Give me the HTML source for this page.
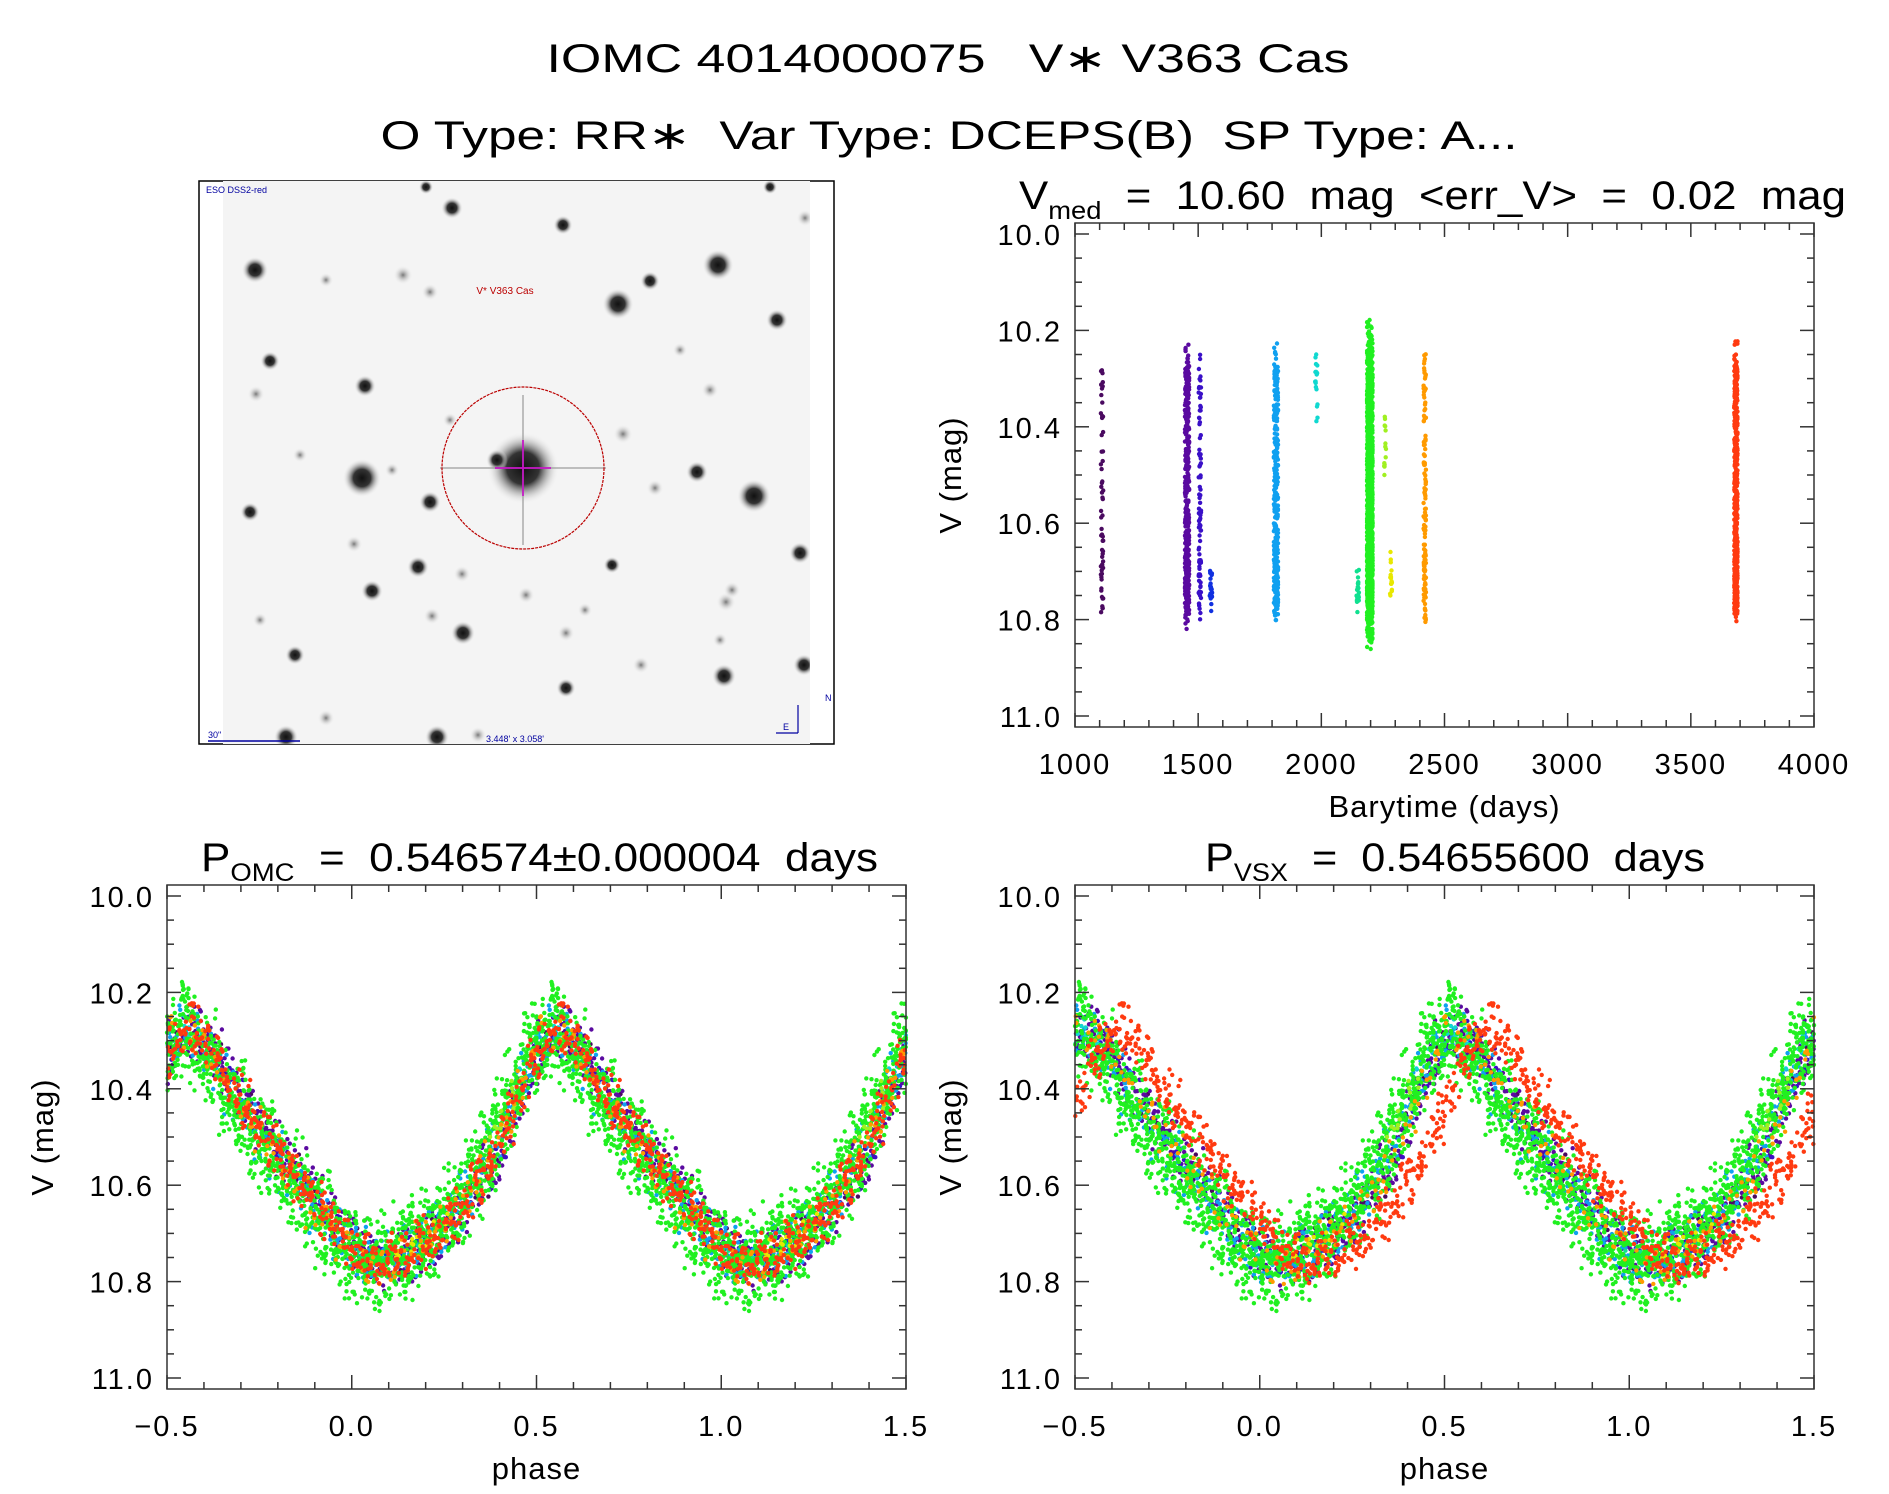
<!DOCTYPE html>
<html><head><meta charset="utf-8"><style>
html,body{margin:0;padding:0;background:#fff}
svg{display:block;font-family:"Liberation Sans",sans-serif}
text{white-space:pre}
</style></head><body>
<svg id="fig" width="1889" height="1494" viewBox="0 0 1889 1494" xmlns="http://www.w3.org/2000/svg" xml:space="preserve">
<defs>
<radialGradient id="star"><stop offset="0" stop-color="#111"/><stop offset="0.45" stop-color="#333"/><stop offset="1" stop-color="#f4f4f4" stop-opacity="0"/></radialGradient>
<radialGradient id="starf"><stop offset="0" stop-color="#777"/><stop offset="1" stop-color="#f4f4f4" stop-opacity="0"/></radialGradient>
<clipPath id="imgclip"><rect x="223" y="181" width="587" height="563"/></clipPath>
</defs>
<text x="948" y="72" font-size="40" text-anchor="middle" textLength="803" lengthAdjust="spacingAndGlyphs">IOMC 4014000075   V∗ V363 Cas</text>
<text x="949" y="149" font-size="40" text-anchor="middle" textLength="1137" lengthAdjust="spacingAndGlyphs">O Type: RR∗  Var Type: DCEPS(B)  SP Type: A...</text>
<g id="skyimg">
<rect x="199" y="181" width="635" height="563" fill="#fff" stroke="#000" stroke-width="1.5"/>
<rect x="223" y="181" width="587" height="563" fill="#f4f4f4"/>
<g id="stars" clip-path="url(#imgclip)"></g>
<ellipse cx="523" cy="468" rx="81" ry="81" fill="none" stroke="#b00" stroke-width="1.2" stroke-dasharray="3,1"/>
<line x1="523" y1="440" x2="523" y2="496" stroke="#c0c" stroke-width="1.5"/>
<line x1="495" y1="468" x2="551" y2="468" stroke="#c0c" stroke-width="1.5"/>
<text x="505" y="294" font-size="10" fill="#b00" text-anchor="middle">V* V363 Cas</text>
<text x="206" y="193" font-size="9" fill="#0000a0">ESO DSS2-red</text>
<text x="208" y="738" font-size="9" fill="#0000a0">30"</text>
<line x1="208" y1="741" x2="300" y2="741" stroke="#0000a0" stroke-width="1.5"/>
<text x="515" y="742" font-size="9" fill="#0000a0" text-anchor="middle">3.448' x 3.058'</text>
<line x1="798" y1="705" x2="798" y2="733" stroke="#0000a0" stroke-width="1.2"/>
<line x1="798" y1="733" x2="776" y2="733" stroke="#0000a0" stroke-width="1.2"/>
<text x="825" y="701" font-size="9" fill="#0000a0">N</text>
<text x="783" y="730" font-size="9" fill="#0000a0">E</text>
</g>
<g id="plots"></g>
</svg>
<script>
// ---------- data ----------
const seasonTime   = [1110, 1455, 1507, 1552, 1816, 1980, 2148, 2197, 2259, 2283, 2420, 3683];
const seasonColor  = ['#4a0a60','#5a0aa0','#3a10c8','#1030e0','#10a0f0','#10d8d0','#10e090','#20f020','#a0f020','#e8e800','#ff9a00','#ff3a10'];
const seasonCount  = [60, 420, 90, 25, 320, 18, 25, 1500, 14, 16, 130, 520];
const seasonPhaseStart = [0.35, 0.0, 0.1, 0.05, 0.0, 0.45, 0.0, 0.0, 0.38, 0.1, 0.0, 0.0];
const seasonPhaseEnd   = [1.35, 1.0, 1.1, 0.2, 1.0, 0.6, 0.2, 1.0, 0.45, 0.25, 1.0, 1.0];
const seasonOmcShift   = [0.03, 0.03, 0.03, 0.0, 0.01, 0.0, 0.0, 0.0, 0.0, 0.0, 0.01, 0.02];
const seasonVsxShift   = [0.0, 0.0, 0.0, -0.02, -0.02, -0.03, -0.03, -0.03, -0.03, -0.03, 0.0, 0.08];
const seasonScatter    = [0.035, 0.045, 0.035, 0.02, 0.045, 0.02, 0.02, 0.075, 0.02, 0.02, 0.04, 0.04];
const seasonSpreadDays = [5, 9, 5, 5, 9, 5, 5, 12, 4, 4, 5, 7];
// mean light curve
const templatePhase = [0,0.05,0.1,0.15,0.2,0.25,0.3,0.35,0.4,0.45,0.5,0.55,0.6,0.65,0.7,0.75,0.8,0.85,0.9,0.95,1.0];
const templateMag   = [10.74,10.76,10.75,10.73,10.71,10.67,10.62,10.56,10.48,10.38,10.30,10.27,10.32,10.39,10.45,10.50,10.55,10.60,10.65,10.70,10.74];
// fixed jitter tables (in units of scatter), coprime lengths
const jitterA = [0.1,-0.8,0.5,-0.3,0.9,-1.0,0.2,0.7,-0.5,-0.1,1.0,-0.7,0.4,-0.9,0.6,0.0,-0.4,0.8,-0.6,0.3,-0.2,0.95,-0.85];
const jitterB = [-0.6,0.3,0.85,-0.15,-0.9,0.5,0.05,-0.4,0.7,-0.75,0.25,0.95,-0.3,0.6,-1.0,0.15,-0.55,0.4,0.8,-0.2,-0.65,0.45,0.0,-0.85,0.9,-0.45,0.35,-0.05,0.65];
const jitterC = [0.3,-0.7,0.9,-0.2,0.5,-0.95,0.1,0.75,-0.4,0.6,-0.1,-0.8,0.45,0.2,-0.55,0.85,-0.3,0.0,-0.65];
const timeTicks  = [1000,1500,2000,2500,3000,3500,4000];
const magTicks   = [10.0,10.2,10.4,10.6,10.8,11.0];
const phaseTicks = [-0.5,0.0,0.5,1.0,1.5];
// sky image stars: [x, y, radius, faint(0/1)]
const starList = [[523,468,30,0],[362,478,16,0],[754,496,14,0],[718,265,13,0],[618,304,13,0],[255,270,11,0],[452,208,9,0],[430,292,7,1],[563,225,8,0],[650,281,8,0],[777,320,9,0],[805,218,7,1],[270,361,8,0],[256,394,7,1],[365,386,9,0],[403,275,8,1],[392,470,6,1],[430,502,9,0],[497,460,9,0],[623,434,8,1],[697,472,9,0],[612,565,7,0],[526,595,7,1],[462,574,7,1],[418,567,9,0],[372,591,9,0],[354,544,7,1],[432,616,7,1],[463,633,10,0],[726,602,8,1],[800,553,9,0],[804,665,9,0],[724,676,10,0],[641,665,7,1],[732,590,7,1],[295,655,8,0],[250,512,8,0],[260,620,6,1],[326,718,7,1],[286,737,10,0],[437,737,10,0],[478,735,7,1],[566,688,8,0],[566,633,7,1],[655,488,7,1],[770,187,6,0],[426,187,6,0],[326,280,6,1],[710,390,7,1],[585,610,6,1],[720,640,6,1],[300,455,6,1],[450,420,6,1],[680,350,6,1]];

const NS='http://www.w3.org/2000/svg';
function mk(tag, attrs, parent){const e=document.createElementNS(NS,tag);for(const k in attrs)e.setAttribute(k,attrs[k]);parent.appendChild(e);return e;}

const sg=document.getElementById('stars');
starList.forEach(s=>{
  const c=mk('circle',{cx:s[0],cy:s[1],r:s[2]*1.2,fill:s[3]?'url(#starf)':'url(#star)'},sg);
  
  
});
mk('line',{x1:523,y1:395,x2:523,y2:545,stroke:'#999','stroke-width':2,opacity:0.6},sg);
mk('line',{x1:440,y1:468,x2:606,y2:468,stroke:'#999','stroke-width':2,opacity:0.6},sg);

function templateAt(p){
  p=((p%1)+1)%1;
  for(let i=0;i<templatePhase.length-1;i++){
    if(p<=templatePhase[i+1]){const t=(p-templatePhase[i])/(templatePhase[i+1]-templatePhase[i]);return templateMag[i]+t*(templateMag[i+1]-templateMag[i]);}
  }
  return templateMag[templateMag.length-1];
}
const plots=document.getElementById('plots');

function makeAxes(name, L,R,T,B, xMin,xMax,yMin,yMax, xTicksMajor, xMinorStep, xLabels, title, titleLen, titleX, xTitle){
  const g=mk('g',{},plots);
  
  
  const y0=T+11, y1=B-11;
  const X=v=>L+(v-xMin)/(xMax-xMin)*(R-L);
  const Y=v=>y0+(v-yMin)/(yMax-yMin)*(y1-y0);
  const pts=mk('g',{},g);
  
  
  const ax=mk('g',{stroke:'#333','stroke-width':1.5,fill:'none'},g);
  mk('rect',{x:L,y:T,width:R-L,height:B-T},ax);
  for(let k=0;k<=20;k++){
    const v=yMin+k*0.05, y=Y(v), len=(k%4===0)?14:7;
    mk('line',{x1:L,y1:y,x2:L+len,y2:y},ax);
    mk('line',{x1:R,y1:y,x2:R-len,y2:y},ax);
  }
  const nMinor=Math.round((xMax-xMin)/xMinorStep);
  for(let k=0;k<=nMinor;k++){
    const v=xMin+k*xMinorStep, x=X(v);
    const major=xTicksMajor.some(t=>Math.abs(t-v)<1e-6);
    const len=major?14:7;
    mk('line',{x1:x,y1:B,x2:x,y2:B-len},ax);
    mk('line',{x1:x,y1:T,x2:x,y2:T+len},ax);
  }
  magTicks.forEach(v=>{
    const t=mk('text',{x:L-13,y:Y(v)+11,'font-size':29,'text-anchor':'end','letter-spacing':2},g);
    t.textContent=v.toFixed(1);
    
    
  });
  xTicksMajor.forEach((v,i)=>{
    const t=mk('text',{x:X(v),y:B+47,'font-size':29,'text-anchor':'middle','letter-spacing':2},g);
    t.textContent=xLabels[i];
    
    
  });
  const yt=mk('text',{x:0,y:0,'font-size':31,'text-anchor':'middle',transform:`translate(${L-114},${(T+B)/2}) rotate(-90)`,'letter-spacing':1},g);
  yt.textContent='V (mag)';
  
  
  const xt=mk('text',{x:(L+R)/2,y:B+90,'font-size':31,'text-anchor':'middle','letter-spacing':1},g);
  xt.textContent=xTitle;
  
  
  const tt=mk('text',{x:titleX,y:T-14,'font-size':40,textLength:titleLen,lengthAdjust:'spacingAndGlyphs'},g);
  tt.innerHTML=title;
  
  
  return {X,Y,pts};
}

const A=makeAxes('lightcurve-time-panel',1075,1814,223,727,1000,4000,10.0,11.0,timeTicks,100,timeTicks.map(String),
  'V<tspan font-size="25" dy="10">med</tspan><tspan dy="-10">  =  10.60  mag  &lt;err_V&gt;  =  0.02  mag</tspan>',827,1019,'Barytime (days)');
const P1=makeAxes('phase-omc-panel',167,906,885,1389,-0.5,1.5,10.0,11.0,phaseTicks,0.1,['−0.5','0.0','0.5','1.0','1.5'],
  'P<tspan font-size="25" dy="10">OMC</tspan><tspan dy="-10">  =  0.546574±0.000004  days</tspan>',677,201,'phase');
const P2=makeAxes('phase-vsx-panel',1075,1814,885,1389,-0.5,1.5,10.0,11.0,phaseTicks,0.1,['−0.5','0.0','0.5','1.0','1.5'],
  'P<tspan font-size="25" dy="10">VSX</tspan><tspan dy="-10">  =  0.54655600  days</tspan>',500,1205,'phase');

function dot(parent,x,y,color){
  const c=mk('circle',{cx:x.toFixed(1),cy:y.toFixed(1),r:2.2,fill:color},parent);
  
  
}
seasonTime.forEach((t,s)=>{
  const n=seasonCount[s], col=seasonColor[s];
  const gA=mk('g',{},A.pts), g1=mk('g',{},P1.pts), g2=mk('g',{},P2.pts);
  [gA,g1,g2].forEach(g=>{});
  for(let i=0;i<n;i++){
    const ph=seasonPhaseStart[s]+(seasonPhaseEnd[s]-seasonPhaseStart[s])*((i*0.618034+s*0.37)%1);
    const j=(jitterA[i%23]+jitterB[(i*3+s)%29])*0.75;
    const jt=jitterC[(i*5+s)%19];
    const jp=(jitterB[(i*7+11)%29]+jitterC[(i*2)%19])*0.5;
    const m=templateAt(ph)+j*seasonScatter[s];
    if(m<10.0||m>11.0) continue;
    dot(gA,A.X(t+jt*seasonSpreadDays[s]),A.Y(m),col);
    const pO=(((ph+seasonOmcShift[s]+jp*0.02)%1)+1)%1;
    const pV=(((ph+seasonVsxShift[s]+jp*0.02)%1)+1)%1;
    [-1,0,1].forEach(k=>{
      const a=pO+k, b=pV+k;
      if(a>=-0.5&&a<=1.5) dot(g1,P1.X(a),P1.Y(m),col);
      if(b>=-0.5&&b<=1.5) dot(g2,P2.X(b),P2.Y(m),col);
    });
  }
});
</script>
</body></html>
